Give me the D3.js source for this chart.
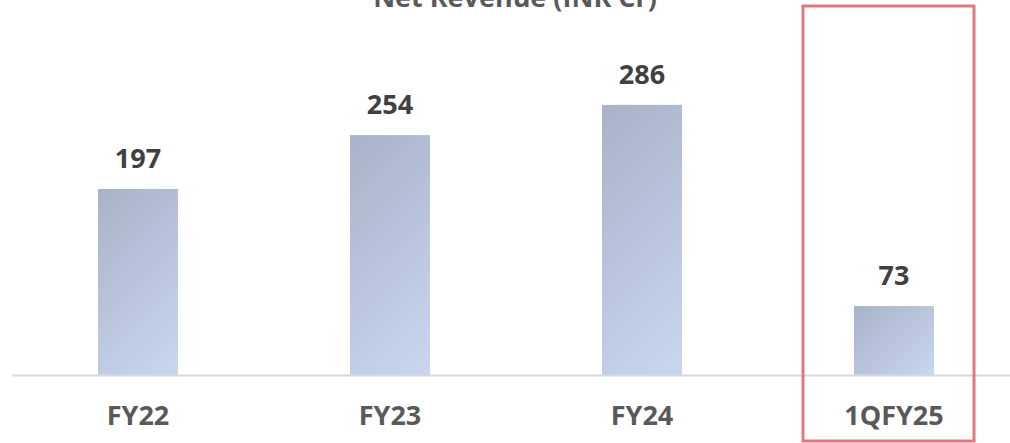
<!DOCTYPE html>
<html>
<head>
<meta charset="utf-8">
<script src="https://cdn.jsdelivr.net/npm/d3@7"></script>
<style>
html,body{margin:0;padding:0;background:#fff;}
svg{display:block;}
text{font-family:"Open Sans","Noto Sans",sans-serif;font-weight:700;}
</style>
</head>
<body>
<svg id="chart" width="1010" height="443"></svg>
<script>
const title = "Net Revenue (INR Cr)";
const categories = ["FY22", "FY23", "FY24", "1QFY25"];
const revenue = [197, 254, 286, 73];
const highlighted = ["1QFY25"];

const W = 1010, H = 443;
const svg = d3.select("#chart");

const x = d3.scaleBand()
  .domain(categories)
  .range([12, 1020])
  .paddingInner(0.6825)
  .paddingOuter(0.34125);

const y = d3.scaleLinear()
  .domain([0, 300])
  .range([375, 375 - 300 * 0.9445]);

const defs = svg.append("defs");
categories.forEach((c, i) => {
  const x0 = x(c), y0 = y(revenue[i]);
  const w = x.bandwidth(), h = y(0) - y0;
  const t = (w + h) / 2;
  const g = defs.append("linearGradient")
    .attr("id", "barGrad" + i)
    .attr("gradientUnits", "userSpaceOnUse")
    .attr("x1", x0).attr("y1", y0)
    .attr("x2", x0 + t).attr("y2", y0 + t);
  g.append("stop").attr("offset", "0%").attr("stop-color", "#a8b3c8");
  g.append("stop").attr("offset", "100%").attr("stop-color", "#cad6f0");
});

// title (clipped at top as in reference)
svg.append("text")
  .attr("x", 515)
  .attr("y", 7)
  .attr("text-anchor", "middle")
  .attr("font-size", 27)
  .attr("fill", "#595959")
  .text(title);

// bars
svg.append("g").selectAll("rect")
  .data(categories)
  .join("rect")
  .attr("x", d => x(d))
  .attr("width", x.bandwidth())
  .attr("y", (d, i) => y(revenue[i]))
  .attr("height", (d, i) => y(0) - y(revenue[i]))
  .attr("fill", (d, i) => `url(#barGrad${i})`);

// value labels
svg.append("g").selectAll("text")
  .data(categories)
  .join("text")
  .attr("x", d => x(d) + x.bandwidth() / 2)
  .attr("y", (d, i) => y(revenue[i]) - 21)
  .attr("text-anchor", "middle")
  .attr("font-size", 27)
  .attr("fill", "#404040")
  .text((d, i) => revenue[i]);

// x axis
const axis = svg.append("g")
  .attr("transform", `translate(0,${y(0)})`)
  .call(d3.axisBottom(x).tickSize(0).tickPadding(0));
axis.select(".domain")
  .attr("d", `M12,0.5H${W}`)
  .attr("stroke", "#d9d9d9")
  .attr("stroke-width", 2);
axis.selectAll(".tick text")
  .attr("y", 50)
  .attr("dy", 0)
  .attr("font-size", 27)
  .attr("font-family", "'Open Sans','Noto Sans',sans-serif")
  .attr("font-weight", 700)
  .attr("fill", "#595959");

// highlight box
svg.append("g").selectAll("rect")
  .data(highlighted)
  .join("rect")
  .attr("x", d => x(d) - 51)
  .attr("y", 6)
  .attr("width", x.bandwidth() + 91)
  .attr("height", 435)
  .attr("fill", "none")
  .attr("stroke", "#e07880")
  .attr("stroke-width", 3);
</script>
</body>
</html>
